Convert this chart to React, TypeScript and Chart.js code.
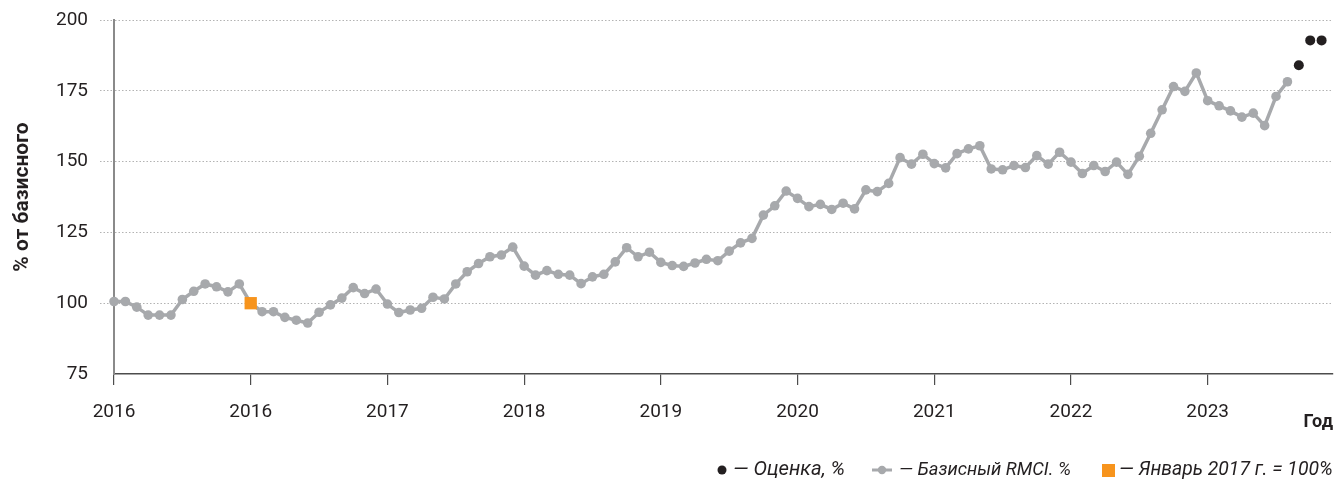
import React, { useEffect, useRef } from 'react';
import { Chart, registerables } from 'chart.js';

Chart.register(...registerables);

// Tick labels under the yearly ticks (every 12 months)
const YEAR_LABELS = ['2016', '2016', '2017', '2018', '2019', '2020', '2021', '2022', '2023'];

// Base RMCI, % of base, monthly from the first tick
const BASE_VALUES = [
  100.6, 100.6, 98.6, 95.8, 95.8, 95.8, 101.3, 104.2, 106.8, 105.8, 104.0, 106.8,
  100.0, 97.0, 97.0, 95.0, 94.0, 93.0, 96.8, 99.4, 101.8, 105.5, 103.4, 105.0,
  99.7, 96.7, 97.6, 98.2, 102.1, 101.5, 106.8, 111.1, 114.0, 116.4, 117.0, 119.8,
  113.1, 109.9, 111.5, 110.2, 109.9, 106.9, 109.3, 110.2, 114.6, 119.6, 116.4, 118.0,
  114.4, 113.3, 113.0, 114.2, 115.5, 115.0, 118.4, 121.3, 122.9, 131.1, 134.4, 139.6,
  137.0, 134.1, 134.9, 133.1, 135.3, 133.3, 140.0, 139.4, 142.3, 151.4, 149.1, 152.6,
  149.3, 147.8, 152.8, 154.5, 155.6, 147.4, 147.1, 148.6, 147.9, 152.1, 149.1, 153.3,
  149.8, 145.8, 148.6, 146.5, 149.8, 145.5, 151.9, 160.0, 168.3, 176.5, 174.8, 181.3,
  171.5, 169.7, 167.9, 165.7, 167.1, 162.7, 173.0, 178.2,
];

// Estimate points (month index, value)
const ESTIMATE_MONTHS = [104, 105, 106];
const ESTIMATE_VALUES = [184.0, 192.8, 192.8];

// January 2017 = 100% anchor
const ANCHOR_MONTHS = [12];
const ANCHOR_VALUES = [100];

const LEGEND_LABELS = ['— Оценка, %', '— Базисный RMCI. %', '— Январь 2017 г. = 100%'];
const Y_TITLE = '% от базисного';
const X_TITLE = 'Год';

const GREY = '#a7a9ac';
const BLACK = '#231f20';
const ORANGE = '#f7941d';
const TEXT = '#231f20';
const FONT = 'Roboto';

function fitText(ctx: CanvasRenderingContext2D, text: string, x: number, y: number, width: number) {
  ctx.font = `italic 18px ${FONT}`;
  const w = ctx.measureText(text).width;
  const size = Math.max(14, Math.min(24, (18 * width) / w));
  ctx.font = `italic ${size.toFixed(2)}px ${FONT}`;
  ctx.fillText(text, x, y);
}

const legendPlugin = {
  id: 'customLegend',
  afterDraw(chart: any) {
    const ctx = chart.ctx as CanvasRenderingContext2D;
    const y = 470;
    ctx.save();
    ctx.textBaseline = 'middle';
    ctx.textAlign = 'left';

    // estimate: black dot
    ctx.beginPath();
    ctx.fillStyle = BLACK;
    ctx.arc(722, y, 4.5, 0, Math.PI * 2);
    ctx.fill();
    ctx.fillStyle = TEXT;
    fitText(ctx, LEGEND_LABELS[0], 733, y, 112);

    // base: grey line with dot
    ctx.strokeStyle = GREY;
    ctx.lineWidth = 3;
    ctx.beginPath();
    ctx.moveTo(872, y);
    ctx.lineTo(892, y);
    ctx.stroke();
    ctx.beginPath();
    ctx.fillStyle = GREY;
    ctx.arc(882, y, 4.2, 0, Math.PI * 2);
    ctx.fill();
    ctx.fillStyle = TEXT;
    fitText(ctx, LEGEND_LABELS[1], 899, y, 172);

    // anchor: orange square
    ctx.fillStyle = ORANGE;
    ctx.fillRect(1102, y - 6, 13, 13);
    ctx.fillStyle = TEXT;
    fitText(ctx, LEGEND_LABELS[2], 1119, y, 214);
    ctx.restore();
  },
};

export default function App() {
  const canvasRef = useRef<HTMLCanvasElement | null>(null);

  useEffect(() => {
    document.body.style.margin = '0';
    const canvas = canvasRef.current;
    if (!canvas) return;

    const basePoints = BASE_VALUES.map((v, i) => ({ x: i, y: v }));
    const estimatePoints = ESTIMATE_MONTHS.map((m, i) => ({ x: m, y: ESTIMATE_VALUES[i] }));
    const anchorPoints = ANCHOR_MONTHS.map((m, i) => ({ x: m, y: ANCHOR_VALUES[i] }));

    const chart = new Chart(canvas, {
      type: 'line',
      data: {
        datasets: [
          {
            label: LEGEND_LABELS[0],
            data: estimatePoints,
            showLine: false,
            pointRadius: 5,
            pointBackgroundColor: BLACK,
            pointBorderWidth: 0,
            borderColor: BLACK,
            backgroundColor: BLACK,
            clip: false,
            order: 1,
          },
          {
            label: LEGEND_LABELS[1],
            data: basePoints,
            borderColor: GREY,
            backgroundColor: GREY,
            borderWidth: 3.5,
            pointRadius: 4.8,
            pointBackgroundColor: GREY,
            pointBorderWidth: 0,
            tension: 0,
            clip: false,
            order: 2,
          },
          {
            label: LEGEND_LABELS[2],
            data: anchorPoints,
            showLine: false,
            pointStyle: 'rect',
            pointRadius: 8.7,
            pointBackgroundColor: ORANGE,
            pointBorderWidth: 0,
            borderColor: ORANGE,
            backgroundColor: ORANGE,
            clip: false,
            order: 0,
          },
        ],
      },
      options: {
        animation: false,
        responsive: true,
        maintainAspectRatio: false,
        layout: { autoPadding: false, padding: { top: 20, right: 3, bottom: 0, left: 0 } },
        plugins: {
          legend: { display: false },
          tooltip: { enabled: false },
        },
        scales: {
          x: {
            type: 'linear',
            min: 0,
            max: 107,
            afterFit: (scale: any) => {
              scale.height = 105;
              scale.paddingLeft = 0;
              scale.paddingRight = 0;
            },
            afterBuildTicks: (scale: any) => {
              scale.ticks = YEAR_LABELS.map((_, i) => ({ value: i * 12 }));
            },
            ticks: {
              autoSkip: false,
              maxRotation: 0,
              padding: 16,
              color: TEXT,
              font: { family: FONT, size: 19 },
              callback: (value: any) => {
                const i = Math.round(Number(value) / 12);
                return YEAR_LABELS[i] ?? '';
              },
            },
            grid: {
              display: true,
              drawOnChartArea: false,
              drawTicks: true,
              tickLength: 11,
              color: '#4d4d4d',
              lineWidth: 1.2,
            },
            border: { display: true, color: '#4d4d4d', width: 1.5 },
            title: {
              display: true,
              text: X_TITLE,
              align: 'end',
              color: TEXT,
              font: { family: FONT, size: 18, weight: 'bold' },
              padding: { top: 0, bottom: 46 },
            },
          },
          y: {
            type: 'linear',
            min: 75,
            max: 200,
            afterFit: (scale: any) => {
              scale.width = 114;
              scale.paddingTop = 0;
              scale.paddingBottom = 0;
            },
            ticks: {
              stepSize: 25,
              padding: 12,
              color: TEXT,
              font: { family: FONT, size: 19 },
            },
            grid: {
              display: true,
              drawOnChartArea: true,
              drawTicks: true,
              tickLength: 14,
              color: (ctx: any) => (ctx.tick && ctx.tick.value === 75 ? 'rgba(0,0,0,0)' : '#b3b3b3'),
              lineWidth: 1,
              tickBorderDash: [1.5, 2],
            },
            border: { display: true, color: '#8a8a8a', width: 2, dash: [1.5, 2] },
            title: {
              display: true,
              text: Y_TITLE,
              color: TEXT,
              font: { family: FONT, size: 21, weight: 'bold' },
              padding: { top: 10, bottom: 0 },
            },
          },
        },
      },
      plugins: [legendPlugin],
    } as any);

    return () => {
      chart.destroy();
    };
  }, []);

  return (
    <div style={{ position: 'absolute', left: 0, top: 0, width: 1336, height: 479 }}>
      <canvas ref={canvasRef} />
    </div>
  );
}
